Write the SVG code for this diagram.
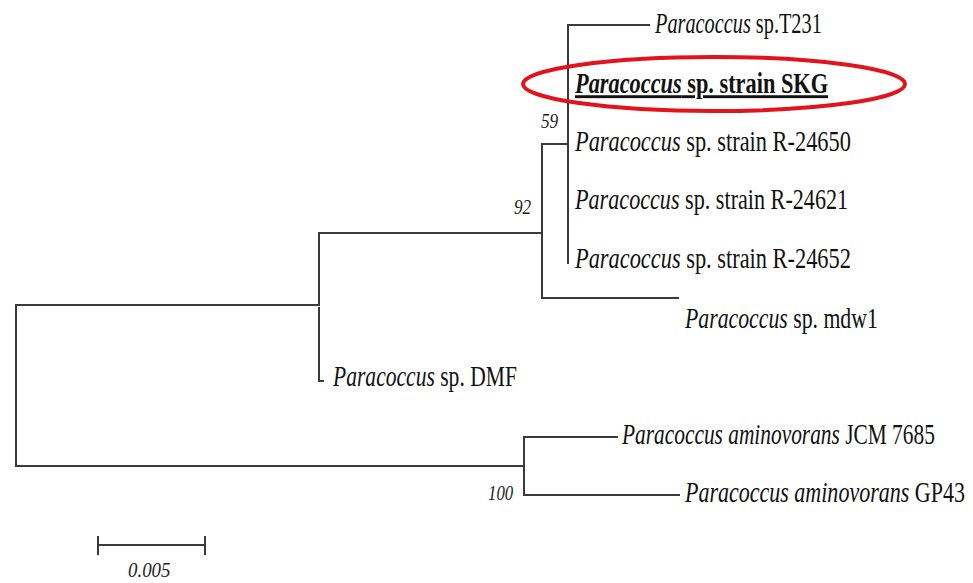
<svg xmlns="http://www.w3.org/2000/svg" width="973" height="583" viewBox="0 0 973 583">
<style>
.br{fill:none;stroke:#3a3a3a;stroke-width:2;stroke-linecap:square}
.lb{font-family:"Liberation Serif","Times New Roman",serif;font-size:29px;fill:#111}
.it{font-style:italic}
.bs{font-family:"Liberation Serif","Times New Roman",serif;font-size:21px;font-style:italic;fill:#222}
</style>
<rect width="973" height="583" fill="#fff"/>
<g id="connectors">
<path class="br" d="M16,305 V466"/>
<path class="br" d="M16,305 H319"/>
<path class="br" d="M16,466 H524"/>
<path class="br" d="M319,233 V304"/>
<path class="br" d="M319,308 V381 H323"/>
<path class="br" d="M319,233 H542"/>
<path class="br" d="M542,144 V298"/>
<path class="br" d="M542,298 H678"/>
<path class="br" d="M542,144 H568"/>
<path class="br" d="M568,25 V263"/>
<path class="br" d="M568,25 H649"/>
<path class="br" d="M524,437 V495"/>
<path class="br" d="M524,437 H617"/>
<path class="br" d="M524,495 H679"/>
</g>
<g id="n-T231"><text class="lb" transform="translate(655,33) scale(0.70,1)"><tspan class="it">Paracoccus</tspan> sp.T231</text></g>
<g id="n-SKG"><text class="lb" transform="translate(575,93) scale(0.77,1)" font-weight="bold" text-decoration="underline"><tspan class="it">Paracoccus</tspan> sp. strain SKG</text></g>
<g id="n-R24650"><text class="lb" transform="translate(575,151) scale(0.772,1)"><tspan class="it">Paracoccus</tspan> sp. strain R-24650</text></g>
<g id="n-R24621"><text class="lb" transform="translate(575,209) scale(0.764,1)"><tspan class="it">Paracoccus</tspan> sp. strain R-24621</text></g>
<g id="n-R24652"><text class="lb" transform="translate(575,268) scale(0.772,1)"><tspan class="it">Paracoccus</tspan> sp. strain R-24652</text></g>
<g id="n-mdw1"><text class="lb" transform="translate(685,328) scale(0.751,1)"><tspan class="it">Paracoccus</tspan> sp. mdw1</text></g>
<g id="n-DMF"><text class="lb" transform="translate(333,386) scale(0.744,1)"><tspan class="it">Paracoccus</tspan> sp. DMF</text></g>
<g id="n-JCM"><text class="lb" transform="translate(622,444) scale(0.737,1)"><tspan class="it">Paracoccus aminovorans</tspan> JCM 7685</text></g>
<g id="n-GP43"><text class="lb" transform="translate(685,502) scale(0.759,1)"><tspan class="it">Paracoccus aminovorans</tspan> GP43</text></g>
<g id="bootstrap">
<text class="bs" transform="translate(541,128) scale(0.82,1)">59</text>
<text class="bs" transform="translate(514,214) scale(0.82,1)">92</text>
<text class="bs" transform="translate(488,500) scale(0.8,1)">100</text>
</g>
<g id="highlight"><ellipse cx="714" cy="84" rx="191" ry="27" fill="none" stroke="#e3131b" stroke-width="4"/></g>
<g id="scale-bar">
<path class="br" d="M98,545 H205 M98,537 V554 M205,537 V554"/>
<text class="bs" transform="translate(128,577) scale(0.9,1)">0.005</text>
</g>
</svg>
